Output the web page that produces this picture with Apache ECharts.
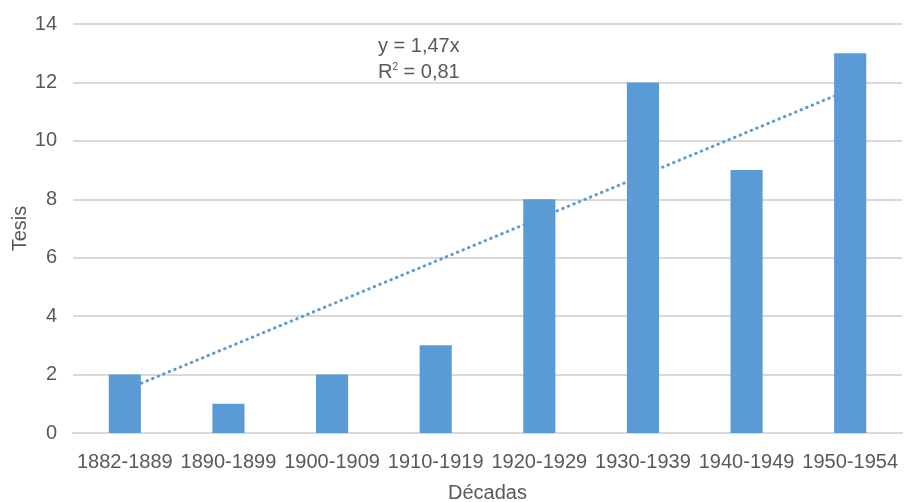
<!DOCTYPE html>
<html>
<head>
<meta charset="utf-8">
<script src="https://cdn.jsdelivr.net/npm/echarts@6/dist/echarts.min.js"></script>
<style>html,body{margin:0;padding:0;background:#fff}#c{width:905px;height:502px}</style>
</head>
<body>
<div id="c"></div>
<script>
const categories = ['1882-1889','1890-1899','1900-1909','1910-1919','1920-1929','1930-1939','1940-1949','1950-1954'];
const tesis = [2, 1, 2, 3, 8, 12, 9, 13];
// trendline endpoints (first and last category)
const trendStart = 1.47;
const trendEnd = 11.76;
const trendData = categories.map((c, i) => i === 0 ? trendStart : (i === categories.length - 1 ? trendEnd : null));
const eqLine1 = 'y = 1,47x';
const eqLine2 = 'R{s|2} = 0,81';

const font = '"Liberation Sans", Arial, sans-serif';
const txt = '#595959';
const chart = echarts.init(document.getElementById('c'));
chart.setOption({
  animation: false,
  grid: { left: 73, right: 3, top: 24, bottom: 69, outerBoundsMode: 'none', containLabel: false },
  xAxis: {
    type: 'category',
    data: categories,
    name: 'Décadas',
    nameLocation: 'middle',
    nameGap: 50,
    nameMoveOverlap: false,
    nameTextStyle: { color: txt, fontSize: 20, fontFamily: font },
    axisLine: { lineStyle: { color: '#d9d9d9', width: 2 } },
    axisTick: { show: false },
    axisLabel: { interval: 0, color: txt, fontSize: 20, fontFamily: font, margin: 19 }
  },
  yAxis: {
    type: 'value',
    min: 0, max: 14, interval: 2,
    name: 'Tesis',
    nameLocation: 'middle',
    nameGap: 43,
    nameMoveOverlap: false,
    nameTextStyle: { color: txt, fontSize: 20, fontFamily: font },
    axisLabel: { color: txt, fontSize: 20, fontFamily: font, margin: 16 },
    splitLine: { lineStyle: { color: '#d9d9d9', width: 2 } }
  },
  series: [
    {
      type: 'line',
      data: trendData,
      connectNulls: true,
      symbol: 'none',
      z: 1,
      lineStyle: { color: '#5b9bd5', width: 3, type: [0.5, 5.5], cap: 'round' }
    },
    {
      type: 'bar',
      data: tesis,
      barWidth: '31%',
      z: 3,
      itemStyle: { color: '#5b9bd5' }
    }
  ],
  graphic: [
    { type: 'text', left: 378, top: 36, z: 10,
      style: { text: eqLine1, fill: txt, fontSize: 20, fontFamily: font } },
    { type: 'text', left: 378, top: 62, z: 10,
      style: { text: eqLine2, fill: txt, fontSize: 20, fontFamily: font,
        rich: { s: { fontSize: 10, verticalAlign: 'top', fill: txt, fontFamily: font, padding: [0,0,8,0] } } } }
  ]
});
</script>
</body>
</html>
